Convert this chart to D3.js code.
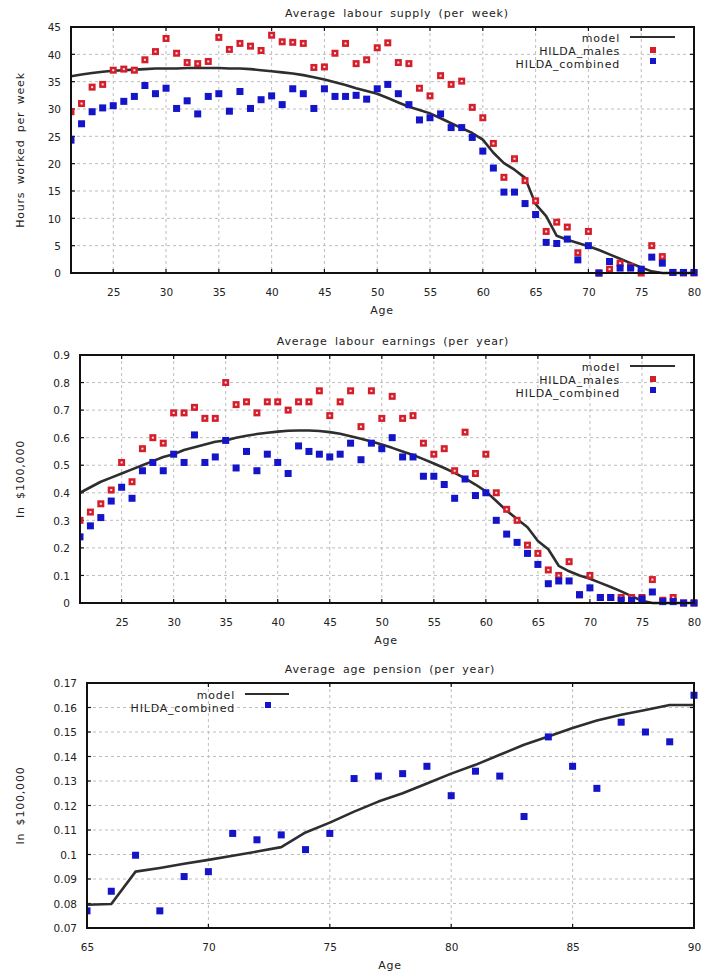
<!DOCTYPE html>
<html><head><meta charset="utf-8">
<script src="https://cdn.jsdelivr.net/npm/d3@7"></script>
<style>
body{margin:0;background:#fff;}
svg text{font-family:"DejaVu Sans",Verdana,sans-serif;font-size:11px;fill:#222;}
svg text.lab{letter-spacing:0.8px;word-spacing:3px;}
</style>
</head><body>
<svg id="c" width="701" height="972"></svg>
<script>
// ---------- Data ----------
const ages1 = d3.range(21, 81); // 21..80
const supplyModel = [36.0,36.3,36.6,36.8,37.0,37.1,37.2,37.3,37.4,37.4,37.4,37.5,37.5,37.5,37.5,37.4,37.4,37.3,37.1,36.9,36.7,36.5,36.2,35.8,35.4,34.9,34.4,33.8,33.3,32.8,32.0,31.2,30.4,29.8,29.2,28.3,27.4,26.5,25.6,24.4,22.0,20.1,18.9,17.4,12.6,10.4,6.8,6.1,5.5,4.9,4.2,3.4,2.6,1.8,1.0,0.3,0,0,0,0];
const supplyMales = [29.5,31.0,34.0,34.5,37.1,37.3,37.1,39.0,40.5,42.9,40.2,38.5,38.3,38.7,43.1,40.9,42.0,41.5,40.7,43.5,42.3,42.2,42.0,37.6,37.7,40.2,42.0,38.3,39.0,41.2,42.1,38.5,38.3,33.8,32.4,36.1,34.5,35.1,30.3,28.4,23.7,17.5,20.9,16.9,13.2,7.6,9.3,8.4,3.7,7.6,0,0.7,1.8,1.2,0,5.0,3.0,0.1,0,0];
const supplyCombined = [24.3,27.3,29.5,30.2,30.6,31.4,32.3,34.3,32.8,33.8,30.1,31.5,29.1,32.3,32.8,29.6,33.2,30.1,31.7,32.4,30.8,33.7,32.8,30.1,33.7,32.3,32.3,32.5,31.8,33.7,34.5,32.8,30.8,28.0,28.4,29.1,26.6,26.6,24.8,22.3,19.2,14.8,14.8,12.7,10.7,5.6,5.4,6.2,2.4,5.0,0,2.1,0.9,0.9,0.7,2.9,1.8,0.1,0.1,0.1];

const earnModel = [0.40,0.42,0.44,0.455,0.47,0.485,0.50,0.515,0.53,0.54,0.555,0.565,0.575,0.585,0.59,0.60,0.607,0.613,0.618,0.622,0.625,0.626,0.626,0.624,0.62,0.614,0.605,0.596,0.586,0.575,0.563,0.55,0.537,0.522,0.506,0.49,0.472,0.452,0.43,0.405,0.37,0.335,0.305,0.275,0.225,0.195,0.135,0.115,0.10,0.088,0.073,0.058,0.042,0.025,0.008,0,0,0,0,0];
const earnMales = [0.30,0.33,0.36,0.41,0.51,0.44,0.56,0.60,0.58,0.69,0.69,0.71,0.67,0.67,0.80,0.72,0.73,0.69,0.73,0.73,0.70,0.73,0.73,0.77,0.68,0.73,0.77,0.64,0.77,0.67,0.75,0.67,0.68,0.58,0.54,0.56,0.48,0.62,0.47,0.54,0.40,0.34,0.30,0.21,0.18,0.12,0.10,0.15,0.03,0.10,0.02,0.02,0.02,0.02,0.02,0.085,0.01,0.02,0,0];
const earnCombined = [0.24,0.28,0.31,0.37,0.42,0.38,0.48,0.51,0.48,0.54,0.51,0.61,0.51,0.53,0.59,0.49,0.55,0.48,0.54,0.51,0.47,0.57,0.55,0.54,0.53,0.54,0.58,0.52,0.58,0.56,0.60,0.53,0.53,0.46,0.46,0.43,0.38,0.45,0.39,0.40,0.30,0.25,0.22,0.18,0.14,0.07,0.08,0.08,0.03,0.055,0.02,0.02,0.01,0.01,0.015,0.04,0.005,0.005,0,0];

const ages3 = d3.range(65, 91); // 65..90
const pensionModel = [0.0795,0.0798,0.0930,0.0945,0.0962,0.0978,0.0995,0.1012,0.1030,0.1090,0.1130,0.1175,0.1216,0.1250,0.1290,0.1330,0.1366,0.1407,0.1448,0.1482,0.1516,0.1547,0.1570,0.1590,0.1610,0.1610];
const pensionCombined = [0.077,0.085,0.0997,0.077,0.091,0.093,0.1086,0.106,0.108,0.102,0.1086,0.131,0.132,0.133,0.136,0.124,0.134,0.132,0.1155,0.148,0.136,0.127,0.154,0.150,0.146,0.165];

const ticks1x = [25,30,35,40,45,50,55,60,65,70,75,80];
const ticks1y = [0,5,10,15,20,25,30,35,40,45];
const ticks2y = [0,0.1,0.2,0.3,0.4,0.5,0.6,0.7,0.8,0.9];
const ticks3x = [65,70,75,80,85,90];
const ticks3y = [0.07,0.08,0.09,0.1,0.11,0.12,0.13,0.14,0.15,0.16,0.17];

const titles = ["Average labour supply (per week)","Average labour earnings (per year)","Average age pension (per year)"];
const yLabels = ["Hours worked per week","In $100,000","In $100,000"];
const seriesNames = ["model","HILDA_males","HILDA_combined"];

// ---------- Drawing ----------
const svg = d3.select("#c");
const RED = "#d41f2a", BLUE = "#1414c8", LINE = "#2e2e2e";

function panel(o){
  const x = d3.scaleLinear().domain(o.xd).range([o.l, o.r]);
  const y = d3.scaleLinear().domain(o.yd).range([o.b, o.t]);
  const g = svg.append("g");
  // grid
  g.append("g").selectAll("line").data(o.xt.filter(v=>v>o.xd[0]&&v<o.xd[1])).join("line")
    .attr("x1",d=>x(d)).attr("x2",d=>x(d)).attr("y1",o.t).attr("y2",o.b)
    .attr("stroke","#bdbdbd").attr("stroke-width",1).attr("stroke-dasharray","3,3");
  g.append("g").selectAll("line").data(o.yt.filter(v=>v>o.yd[0]+1e-9&&v<o.yd[1]-1e-9)).join("line")
    .attr("y1",d=>y(d)).attr("y2",d=>y(d)).attr("x1",o.l).attr("x2",o.r)
    .attr("stroke","#bdbdbd").attr("stroke-width",1).attr("stroke-dasharray","3,3");
  // axes via d3
  const ax = d3.axisBottom(x).tickValues(o.xt).tickSize(0).tickPadding(0).tickFormat(d3.format("d"));
  const axg = g.append("g").attr("transform",`translate(0,${o.b+23})`).call(ax);
  axg.select(".domain").remove();
  axg.selectAll("text").attr("dy",0).attr("y",0).attr("fill","#222").style("font-size","10.5px").style("font-family","DejaVu Sans, sans-serif");
  const ay = d3.axisLeft(y).tickValues(o.yt).tickSize(0).tickPadding(0).tickFormat(o.yf);
  const ayg = g.append("g").attr("transform",`translate(${o.l-10},0)`).call(ay);
  ayg.select(".domain").remove();
  ayg.selectAll("text").attr("dy","0.35em").attr("fill","#222").style("font-size","10.5px").style("font-family","DejaVu Sans, sans-serif");
  // inner ticks
  const tk = g.append("g").attr("stroke","#111").attr("stroke-width",1.2);
  o.xt.forEach(v=>{ tk.append("line").attr("x1",x(v)).attr("x2",x(v)).attr("y1",o.b).attr("y2",o.b-4);
                    tk.append("line").attr("x1",x(v)).attr("x2",x(v)).attr("y1",o.t).attr("y2",o.t+4); });
  o.yt.forEach(v=>{ tk.append("line").attr("y1",y(v)).attr("y2",y(v)).attr("x1",o.l).attr("x2",o.l+4);
                    tk.append("line").attr("y1",y(v)).attr("y2",y(v)).attr("x1",o.r).attr("x2",o.r-4); });
  // titles
  g.append("text").attr("class","lab").attr("x",o.tx).attr("y",o.t-10).attr("text-anchor","middle").text(o.title);
  g.append("text").attr("class","lab").attr("x",o.agex).attr("y",o.b+41).attr("text-anchor","middle").text("Age");
  g.append("text").attr("class","lab").attr("transform",`translate(24,${(o.t+o.b)/2}) rotate(-90)`).attr("text-anchor","middle").text(o.ylab);
  // clip
  const cid = "clip"+o.id;
  svg.append("clipPath").attr("id",cid).append("rect").attr("x",o.l).attr("y",o.t-6).attr("width",o.r-o.l+6).attr("height",o.b-o.t+12);
  const pg = g.append("g").attr("clip-path",`url(#${cid})`);
  // model line
  const line = d3.line().x((d,i)=>x(o.ages[i])).y(d=>y(d));
  pg.append("path").attr("d",line(o.model)).attr("fill","none").attr("stroke",LINE).attr("stroke-width",2.6).attr("stroke-linejoin","round");
  const s = 7;
  if(o.males){
    const m = pg.append("g");
    o.males.forEach((v,i)=>{
      m.append("rect").attr("x",x(o.ages[i])-s/2).attr("y",y(v)-s/2).attr("width",s).attr("height",s).attr("fill",RED);
      m.append("rect").attr("x",x(o.ages[i])-1).attr("y",y(v)-1).attr("width",2).attr("height",2).attr("fill","#fde");
    });
  }
  pg.append("g").selectAll("rect").data(o.comb).join("rect")
    .attr("x",(d,i)=>x(o.ages[i])-s/2).attr("y",d=>y(d)-s/2).attr("width",s).attr("height",s).attr("fill",BLUE);
  // frame
  g.append("rect").attr("x",o.l).attr("y",o.t).attr("width",o.r-o.l).attr("height",o.b-o.t)
    .attr("fill","none").attr("stroke","#111").attr("stroke-width",2);
  // legend
  const L = o.leg;
  g.append("text").attr("class","lab").attr("x",L.tx).attr("y",L.y0+4).attr("text-anchor","end").text(seriesNames[0]);
  g.append("line").attr("x1",L.lx1).attr("x2",L.lx2).attr("y1",L.y0-1).attr("y2",L.y0-1).attr("stroke",LINE).attr("stroke-width",2);
  let yy = L.y0 + 13;
  if(o.males){
    g.append("text").attr("class","lab").attr("x",L.tx).attr("y",yy+4).attr("text-anchor","end").text(seriesNames[1]);
    g.append("rect").attr("x",L.mx-3).attr("y",yy-4).attr("width",6).attr("height",6).attr("fill",RED);
    yy += 13;
  }
  g.append("text").attr("class","lab").attr("x",L.tx).attr("y",yy+4).attr("text-anchor","end").text(seriesNames[2]);
  g.append("rect").attr("x",L.mx-3).attr("y",yy-6).attr("width",6).attr("height",6).attr("fill",BLUE);
}

panel({id:1,l:71,r:694,t:27,b:273,xd:[21,80],yd:[0,45],xt:ticks1x,yt:ticks1y,yf:d3.format("d"),
  ages:ages1,model:supplyModel,males:supplyMales,comb:supplyCombined,title:titles[0],ylab:yLabels[0],tx:397,agex:382,
  leg:{tx:620,y0:38,lx1:630,lx2:675,mx:653}});
panel({id:2,l:80,r:694,t:355,b:603,xd:[21,80],yd:[0,0.9],xt:ticks1x,yt:ticks2y,yf:d=>d===0?"0":d3.format(".1f")(d),
  ages:ages1,model:earnModel,males:earnMales,comb:earnCombined,title:titles[1],ylab:yLabels[1],tx:393,agex:386,
  leg:{tx:620,y0:367,lx1:630,lx2:675,mx:653}});
panel({id:3,l:87,r:694,t:683,b:928,xd:[65,90],yd:[0.07,0.17],xt:ticks3x,yt:ticks3y,yf:d=>d3.format(".2~f")(d),
  ages:ages3,model:pensionModel,males:null,comb:pensionCombined,title:titles[2],ylab:yLabels[2],tx:390,agex:390,
  leg:{tx:235,y0:695,lx1:245,lx2:289,mx:268}});
</script>
</body></html>
